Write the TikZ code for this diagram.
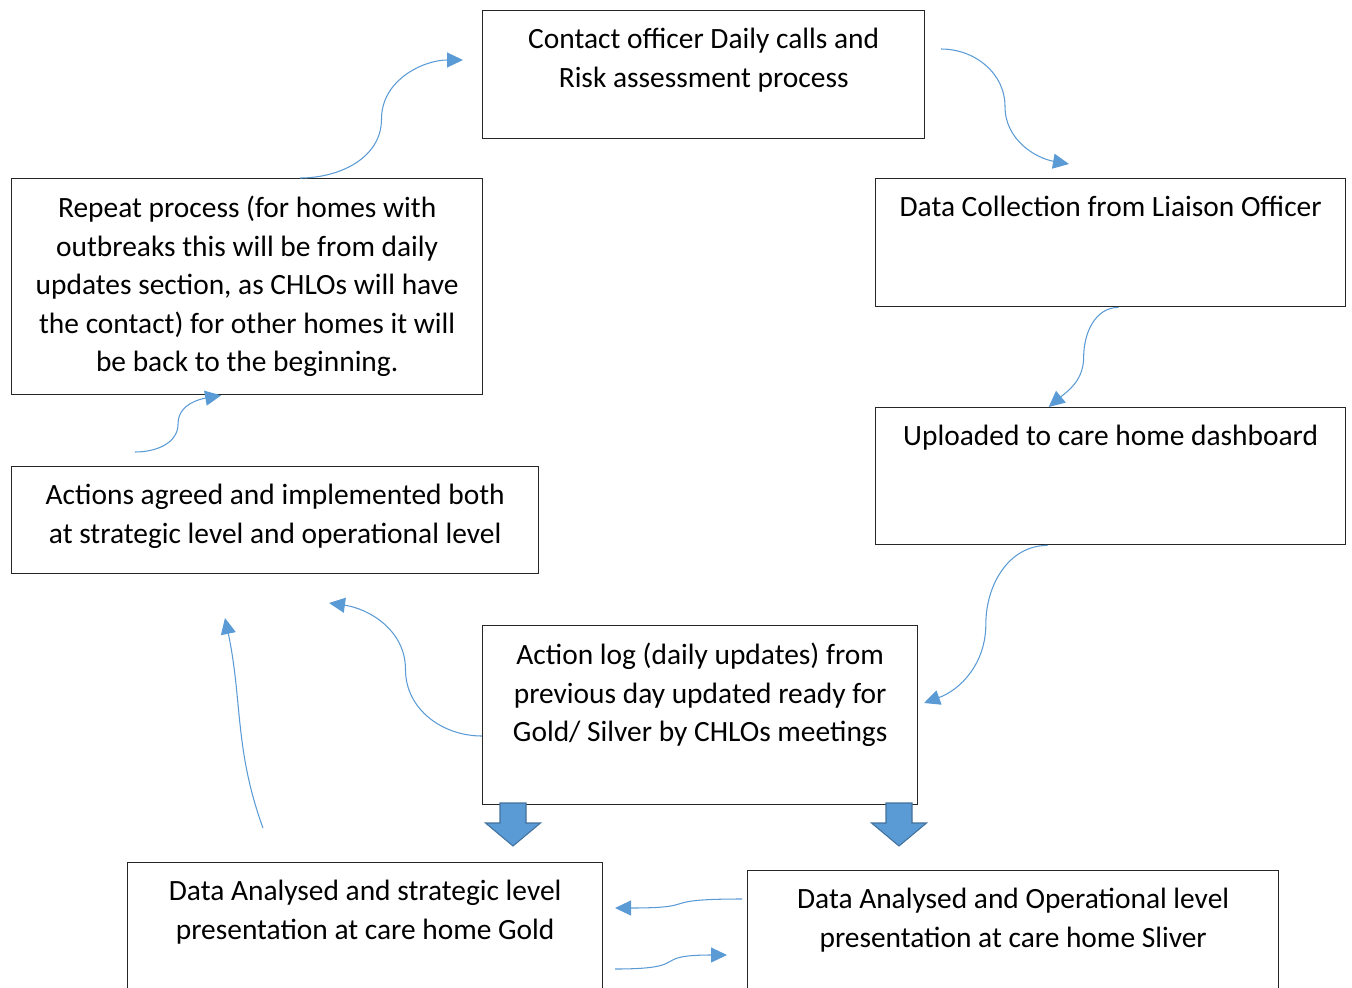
\documentclass[tikz,border=0pt]{standalone}
\usepackage{fontspec}
\setmainfont{Carlito}
\usepackage{tikz}
\usetikzlibrary{arrows.meta, positioning, calc}
\definecolor{flowblue}{RGB}{91,155,213}
\definecolor{flowedge}{RGB}{65,113,156}

\begin{document}
\begin{tikzpicture}[x=0.02cm, y=-0.02cm,
    panel/.style={rectangle, draw=black!85, line width=0.8pt, anchor=north west, inner sep=0pt},
    caption/.style={align=center, inner sep=0pt, font=\fontsize{16.75}{21.9}\selectfont},
    flow/.style={draw=flowblue, line width=0.6pt, -{Triangle[length=0.32cm, width=0.3cm]}},
    blockarrow/.style={fill=flowblue, draw=flowedge, line width=0.6pt}]

    \useasboundingbox (0,0) rectangle (1352,987);

    % process boxes
    \node[panel, minimum width=8.84cm, minimum height=2.56cm] (contact) at (482,10) {};
    \node[panel, minimum width=9.40cm, minimum height=2.56cm] (collect) at (875,178) {};
    \node[panel, minimum width=9.40cm, minimum height=2.74cm] (upload) at (875,407) {};
    \node[panel, minimum width=8.70cm, minimum height=3.58cm] (actlog) at (482,625) {};
    \node[panel, minimum width=10.54cm, minimum height=2.14cm] (agreed) at (11,466) {};
    \node[panel, minimum width=9.42cm, minimum height=4.32cm] (again) at (11,178) {};
    \node[panel, minimum width=9.50cm, minimum height=3.0cm] (gold) at (127,862) {};
    \node[panel, minimum width=10.62cm, minimum height=3.0cm] (silver) at (747,870) {};

    % box texts, set at the top of each box
    \node[caption, below=0.36cm of contact.north] (contact-txt) {Contact officer Daily calls and\\Risk assessment process};
    \node[caption, below=0.36cm of collect.north] (collect-txt) {Data Collection from Liaison Officer};
    \node[caption, below=0.36cm of upload.north] (upload-txt) {Uploaded to care home dashboard};
    \node[caption, below=0.36cm of actlog.north] (actlog-txt) {Action log (daily updates) from\\previous day updated ready for\\Gold/ Silver by CHLOs meetings};
    \node[caption, below=0.36cm of agreed.north] (agreed-txt) {Actions agreed and implemented both\\at strategic level and operational level};
    \node[caption, below=0.36cm of again.north] (again-txt) {Repeat process (for homes with\\outbreaks this will be from daily\\updates section, as CHLOs will have\\the contact) for other homes it will\\be back to the beginning.};
    \node[caption, below=0.36cm of gold.north] (gold-txt) {Data Analysed and strategic level\\presentation at care home Gold};
    \node[caption, below=0.36cm of silver.north] (silver-txt) {Data Analysed and Operational level\\presentation at care home Sliver};

    % connector ends
    \coordinate (s1) at ($(again.north west)+(289,0)$);
    \coordinate (e1) at (463,60);
    \coordinate (s2) at (941,49);
    \coordinate (e2) at (1069,164);
    \coordinate (s3) at ($(collect.south)+(8,0)$);
    \coordinate (e3) at ($(upload.north)+(-62,0)$);
    \coordinate (s4) at ($(upload.south)+(-63,0)$);
    \coordinate (e4) at (924,703);
    \coordinate (s5) at ($(actlog.north west)+(0,111)$);
    \coordinate (e5) at (329,603);
    \coordinate (s6) at (263,828);
    \coordinate (e6) at (225,618);
    \coordinate (s7) at (135,452);
    \coordinate (e7) at ($(again.south)+(-26,0)$);
    \coordinate (s8) at ($(silver.north west)+(-5,29)$);
    \coordinate (e8) at (615,908);
    \coordinate (s9) at (615,969);
    \coordinate (e9) at (727,955);

    % curved connectors, turning through the midpoint
    \draw[flow] (s1) to[out=0,in=-90] ($(s1)!.5!(e1)$) to[out=90,in=180] (e1);
    \draw[flow] (s2) to[out=0,in=90] ($(s2)!.5!(e2)$) to[out=-90,in=170] (e2);
    \draw[flow] (s3) to[out=180,in=90] ($(s3)!.5!(e3)$) to[out=-90,in=40] (e3);
    \draw[flow] (s4) to[out=180,in=90] ($(s4)!.5!(e4)$) to[out=-90,in=20] (e4);
    \draw[flow] (s5) to[out=180,in=-90] ($(s5)!.5!(e5)$) to[out=90,in=-8] (e5);
    \draw[flow] (s6) to[out=110,in=-78] (e6);
    \draw[flow] (s7) to[out=0,in=-90] ($(s7)!.5!(e7)$) to[out=90,in=190] (e7);
    \draw[flow] (s8) to[out=180,in=0,looseness=1.8] (e8);
    \draw[flow] (s9) to[out=0,in=180,looseness=1.8] (e9);

    % block arrows under the action log
    \foreach \cx in {513,899}
        \filldraw[blockarrow] ({\cx-13},803) -- ({\cx+13},803) -- ({\cx+13},823) -- ({\cx+27.5},823)
            -- (\cx,846) -- ({\cx-27.5},823) -- ({\cx-13},823) -- cycle;
\end{tikzpicture}
\end{document}
